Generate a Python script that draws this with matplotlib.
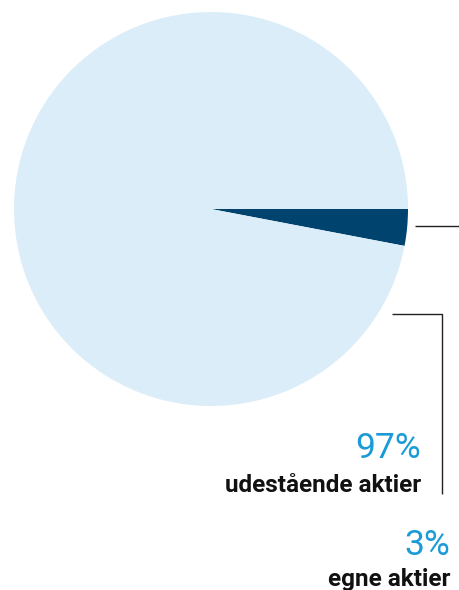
import matplotlib.pyplot as plt

labels = ['egne aktier', 'udestående aktier']
shares = [3, 97]
pct_labels = ['3%', '97%']
colors = ['#00436e', '#dbedf8']

fig = plt.figure(figsize=(4.59, 5.9), dpi=100)
ax = fig.add_axes([0, 0, 1, 1])

# pie in pixel coordinates (y downwards)
ax.pie(shares, colors=colors, startangle=0, counterclock=True,
       center=(211, 209), radius=197, wedgeprops=dict(linewidth=0))
ax.set_xlim(0, 459)
ax.set_ylim(590, 0)
ax.set_aspect('equal')
ax.axis('off')

line_kw = dict(color='#222222', linewidth=1.0, solid_capstyle='butt')
# leader for 3%
ax.plot([415, 459], [226, 226], **line_kw)
# leader for 97%
ax.plot([392, 442, 442], [314, 314, 494], **line_kw)

font = ['Roboto', 'DejaVu Sans']
ax.text(421, 458, pct_labels[1], ha='right', va='baseline', fontsize=25.5,
        fontweight='normal', color='#1a9ad6', family=font)
ax.text(421, 492, labels[1], ha='right', va='baseline', fontsize=17.5,
        fontweight='bold', color='#111111', family=font)
ax.text(450, 555, pct_labels[0], ha='right', va='baseline', fontsize=25.5,
        fontweight='normal', color='#1a9ad6', family=font)
ax.text(450, 586, labels[0], ha='right', va='baseline', fontsize=17.5,
        fontweight='bold', color='#111111', family=font)

fig.savefig('out.png', dpi=100)
